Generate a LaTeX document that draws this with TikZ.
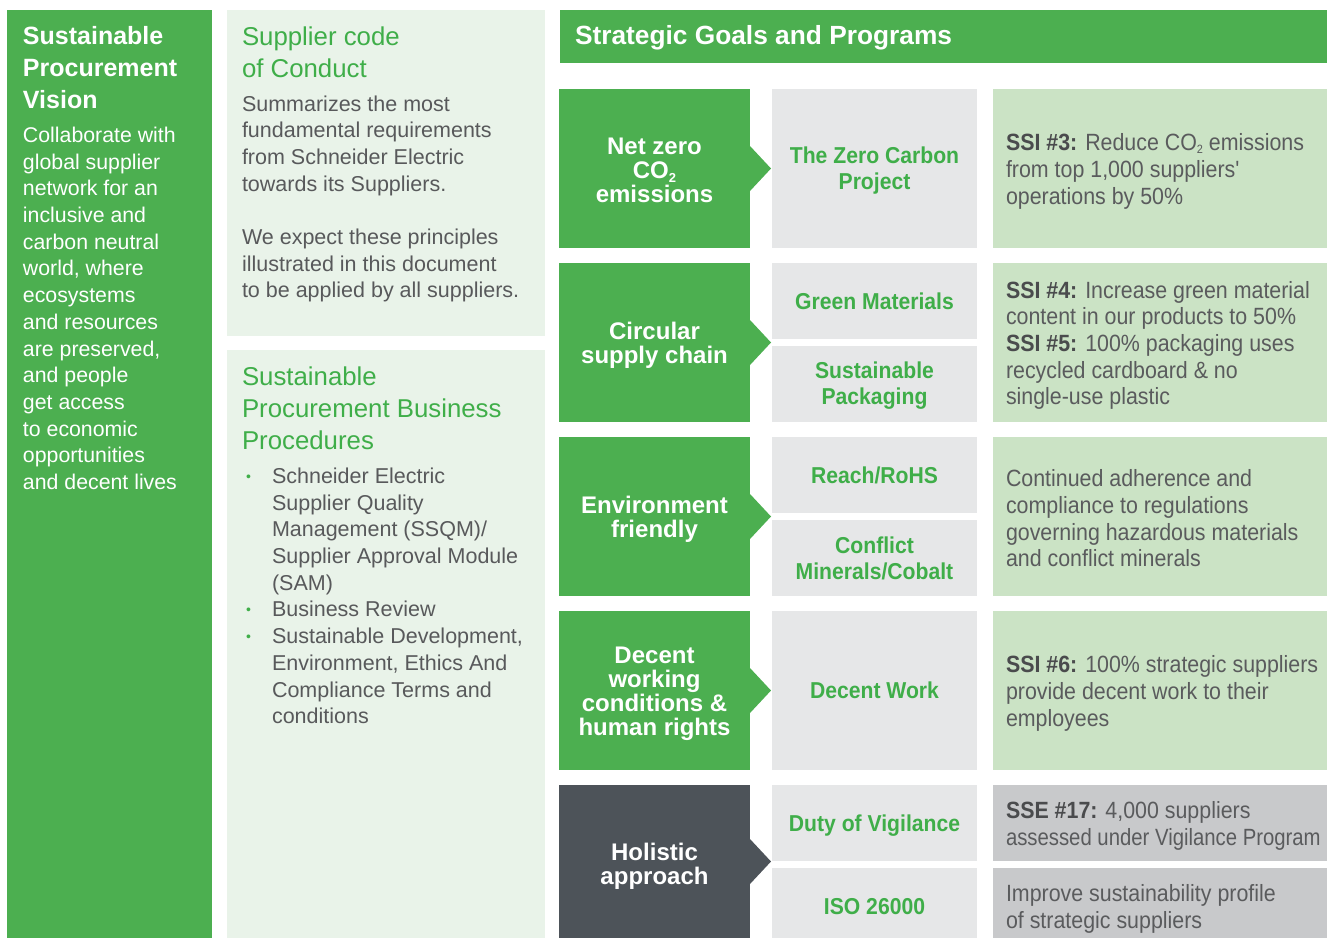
\documentclass[tikz,border=0pt]{standalone}
\usepackage{graphicx}
\usepackage{fontspec}
\setmainfont{Liberation Sans}
\newfontfamily\narrowfont[FakeStretch=0.92]{Liberation Sans}
\newfontfamily\kpifont[FakeStretch=0.91]{Liberation Sans}
\definecolor{sgreen}{HTML}{4CAF50}
\definecolor{paleg}{HTML}{E9F3E9}
\definecolor{lgray}{HTML}{E6E7E8}
\definecolor{kgreen}{HTML}{CBE3C5}
\definecolor{darkbox}{HTML}{4D5359}
\definecolor{sgray}{HTML}{C8C9CB}
\definecolor{tgreen}{HTML}{3FAE49}
\definecolor{tgray}{HTML}{58595B}
\definecolor{kgray}{HTML}{5A5B5D}
\definecolor{kbold}{HTML}{4A4B4D}
\begin{document}
\begin{tikzpicture}[x=1pt,y=-1pt,
  every node/.style={inner sep=0pt, outer sep=0pt},
  panel/.style={anchor=north west, fill=#1, draw=none},
  visiontitle/.style={anchor=north west, align=left, text=white, font=\bfseries\fontsize{25}{32}\selectfont},
  visionbody/.style={anchor=north west, align=left, text=white, font=\fontsize{21.3}{26.7}\selectfont},
  paneltitle/.style={anchor=north west, align=left, text=tgreen, font=\fontsize{25.8}{32}\selectfont},
  panelbody/.style={anchor=north west, align=left, text=tgray, font=\fontsize{21.5}{26.7}\selectfont},
  labeltext/.style={text=white, align=center, font=\bfseries\fontsize{24}{24}\selectfont},
  progtext/.style={text=tgreen, align=center, font=\narrowfont\bfseries\fontsize{23}{26}\selectfont},
  kpitext/.style={anchor=west, align=left, text=kgray, font=\kpifont\fontsize{23.5}{26.7}\selectfont},
  notch/.style={fill=#1, draw=none}
]
\useasboundingbox (0,0) rectangle (1327,938);
\fill[white] (0,0) rectangle (1327,938);

% left columns
\node[panel=sgreen, minimum width=205, minimum height=928] (vision) at (7,10) {};
\node[panel=paleg, minimum width=318, minimum height=326] (code) at (227,10) {};
\node[panel=paleg, minimum width=318, minimum height=588] (proc) at (227,350) {};

\node[visiontitle] (visiont) at (23,26) {Sustainable\\Procurement\\Vision};
\node[visionbody] (visionb) at (23,127) {Collaborate with\\global supplier\\network for an\\inclusive and\\carbon neutral\\world, where\\ecosystems\\and resources\\are preserved,\\and people\\get access\\to economic\\opportunities\\and decent lives};

\node[paneltitle] (codet) at (242,27) {Supplier code\\of Conduct};
\node[panelbody] (codeb) at (242,95.5) {Summarizes the most\\fundamental requirements\\from Schneider Electric\\towards its Suppliers.\\[26.7pt]We expect these principles\\illustrated in this document\\to be applied by all suppliers.};

\node[paneltitle] (proct) at (242,367) {Sustainable\\Procurement Business\\Procedures};
\node[anchor=north west, text=tgray, font=\fontsize{21.5}{26.7}\selectfont] (procb) at (246,464.7) {%
\begin{tabular}[t]{@{}p{26pt}@{}l@{}}
\raisebox{2pt}{\textcolor{tgreen}{\fontsize{14}{14}\selectfont •}} & Schneider Electric\\
& Supplier Quality\\
& Management (SSQM)/\\
& Supplier Approval Module\\
& (SAM)\\
\raisebox{2pt}{\textcolor{tgreen}{\fontsize{14}{14}\selectfont •}} & Business Review\\
\raisebox{2pt}{\textcolor{tgreen}{\fontsize{14}{14}\selectfont •}} & Sustainable Development,\\
& Environment, Ethics And\\
& Compliance Terms and\\
& conditions
\end{tabular}};

% header
\node[panel=sgreen, minimum width=767, minimum height=53] (header) at (560,10) {};
\node[anchor=west, text=white, font=\bfseries\fontsize{26.3}{26.3}\selectfont] (headert) at ([xshift=15pt,yshift=-1pt]header.west) {Strategic Goals and Programs};

% row 1
\node[panel=sgreen, minimum width=191, minimum height=159] (goal1) at (559,89) {};
\node[labeltext] (goal1t) at ([yshift=-2pt]goal1.center) {Net zero\\CO\smash{\raisebox{-4pt}{\fontsize{13}{13}\selectfont 2}}\\emissions};
\fill[notch=sgreen] ([yshift=22.5pt]goal1.east) -- ++(21,22.5) -- ++(-21,22.5) -- cycle;
\node[panel=lgray, minimum width=205, minimum height=159] (prog1) at (772,89) {};
\node[progtext] (prog1t) at ([yshift=-2pt]prog1.center) {The Zero Carbon\\Project};
\node[panel=kgreen, minimum width=334, minimum height=159] (kpi1) at (993,89) {};
\node[kpitext] (kpi1t) at ([xshift=13pt,yshift=-3pt]kpi1.west) {\textcolor{kbold}{\bfseries SSI \#3:} Reduce CO\raisebox{-3pt}{\fontsize{12}{12}\selectfont 2} emissions\\from top 1,000 suppliers'\\operations by 50\%};

% row 2
\node[panel=sgreen, minimum width=191, minimum height=159] (goal2) at (559,263) {};
\node[labeltext] (goal2t) at ([yshift=-3pt]goal2.center) {Circular\\supply chain};
\fill[notch=sgreen] ([yshift=22.5pt]goal2.east) -- ++(21,22.5) -- ++(-21,22.5) -- cycle;
\node[panel=lgray, minimum width=205, minimum height=76] (prog2a) at (772,263) {};
\node[progtext] (prog2at) at (prog2a.center) {Green Materials};
\node[panel=lgray, minimum width=205, minimum height=76] (prog2b) at (772,346) {};
\node[progtext] (prog2bt) at ([yshift=-2pt]prog2b.center) {Sustainable\\Packaging};
\node[panel=kgreen, minimum width=334, minimum height=159] (kpi2) at (993,263) {};
\node[kpitext] (kpi2t) at ([xshift=13pt,yshift=-3pt]kpi2.west) {\textcolor{kbold}{\bfseries SSI \#4:} Increase green material\\content in our products to 50\%\\\textcolor{kbold}{\bfseries SSI \#5:} 100\% packaging uses\\recycled cardboard \& no\\single-use plastic};

% row 3
\node[panel=sgreen, minimum width=191, minimum height=159] (goal3) at (559,437) {};
\node[labeltext] (goal3t) at ([yshift=-3pt]goal3.center) {Environment\\friendly};
\fill[notch=sgreen] ([yshift=22.5pt]goal3.east) -- ++(21,22.5) -- ++(-21,22.5) -- cycle;
\node[panel=lgray, minimum width=205, minimum height=76] (prog3a) at (772,437) {};
\node[progtext] (prog3at) at (prog3a.center) {Reach/RoHS};
\node[panel=lgray, minimum width=205, minimum height=76] (prog3b) at (772,520) {};
\node[progtext] (prog3bt) at (prog3b.center) {Conflict\\Minerals/Cobalt};
\node[panel=kgreen, minimum width=334, minimum height=159] (kpi3) at (993,437) {};
\node[kpitext] (kpi3t) at ([xshift=13pt,yshift=-2pt]kpi3.west) {Continued adherence and\\compliance to regulations\\governing hazardous materials\\and conflict minerals};

% row 4
\node[panel=sgreen, minimum width=191, minimum height=159] (goal4) at (559,611) {};
\node[labeltext] (goal4t) at ([yshift=-3pt]goal4.center) {Decent\\working\\conditions \&\\human rights};
\fill[notch=sgreen] ([yshift=22.5pt]goal4.east) -- ++(21,22.5) -- ++(-21,22.5) -- cycle;
\node[panel=lgray, minimum width=205, minimum height=159] (prog4) at (772,611) {};
\node[progtext] (prog4t) at (prog4.center) {Decent Work};
\node[panel=kgreen, minimum width=334, minimum height=159] (kpi4) at (993,611) {};
\node[kpitext] (kpi4t) at ([xshift=13pt,yshift=-3pt]kpi4.west) {\textcolor{kbold}{\bfseries SSI \#6:} 100\% strategic suppliers\\provide decent work to their\\employees};

% row 5
\node[panel=darkbox, minimum width=191, minimum height=153] (goal5) at (559,785) {};
\node[labeltext] (goal5t) at ([yshift=-5pt]goal5.center) {Holistic\\approach};
\fill[notch=darkbox] ([yshift=22.5pt]goal5.east) -- ++(21,22.5) -- ++(-21,22.5) -- cycle;
\node[panel=lgray, minimum width=205, minimum height=76] (prog5a) at (772,785) {};
\node[progtext] (prog5at) at ([yshift=-3pt]prog5a.center) {Duty of Vigilance};
\node[panel=lgray, minimum width=205, minimum height=70] (prog5b) at (772,868) {};
\node[progtext] (prog5bt) at ([yshift=-4pt]prog5b.center) {ISO 26000};
\node[panel=sgray, minimum width=334, minimum height=76] (kpi5a) at (993,785) {};
\node[kpitext] (kpi5at) at ([xshift=13pt,yshift=-3pt]kpi5a.west) {\textcolor{kbold}{\bfseries SSE \#17:} 4,000 suppliers\\\scalebox{0.95}[1]{assessed under Vigilance Program}};
\node[panel=sgray, minimum width=334, minimum height=70] (kpi5b) at (993,868) {};
\node[kpitext] (kpi5bt) at ([xshift=13pt,yshift=-6pt]kpi5b.west) {Improve sustainability profile\\of strategic suppliers};
\end{tikzpicture}
\end{document}
